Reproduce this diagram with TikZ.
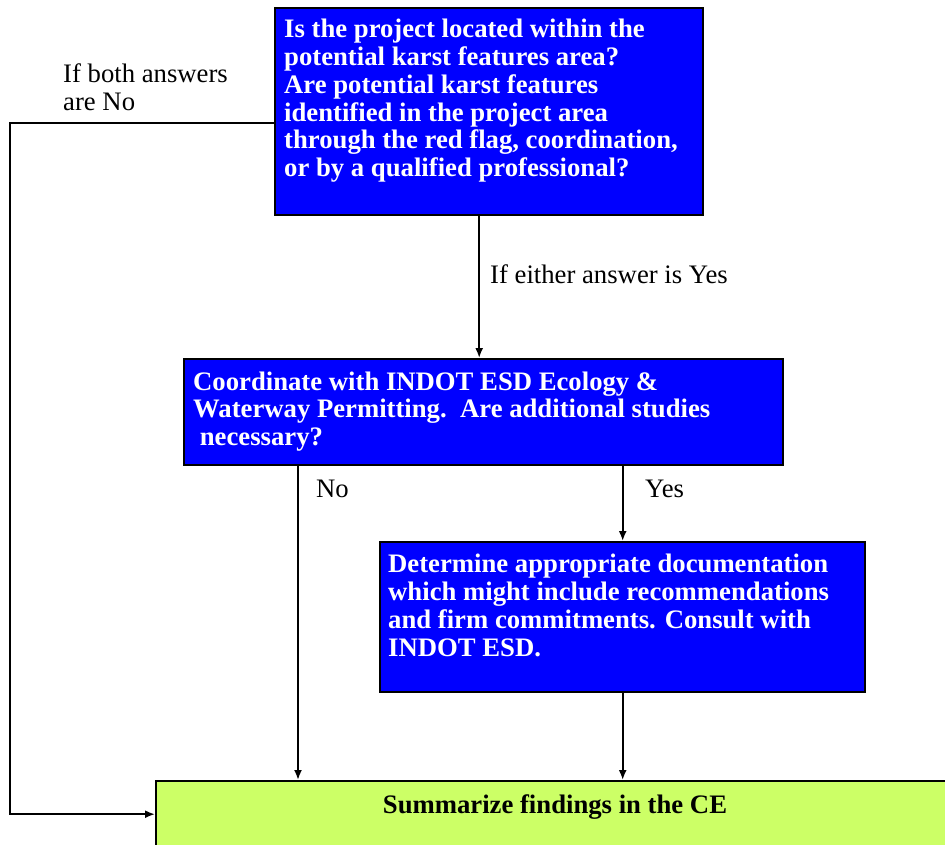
\documentclass[tikz,border=0pt]{standalone}
\usepackage{fontspec}
\setmainfont{Liberation Serif}
\usetikzlibrary{arrows.meta}
\definecolor{boxblue}{RGB}{0,0,255}
\definecolor{boxgreen}{RGB}{204,255,102}
\newcommand\boxfont{\fontsize{26.7pt}{27.8pt}\selectfont\bfseries}
\newcommand\lblfont{\fontsize{26.7pt}{28pt}\selectfont}
\tikzset{
  qbox/.style={draw=black, line width=2.4pt, fill=boxblue, inner sep=0pt, anchor=north west},
  gbox/.style={draw=black, line width=2.4pt, fill=boxgreen, inner sep=0pt, anchor=north west},
  btext/.style={anchor=north west, inner sep=0pt, align=left, text=white, font=\boxfont},
  stext/.style={anchor=base, inner sep=0pt, text=black, font=\boxfont},
  lbl/.style={inner sep=0pt, align=left, text=black, font=\lblfont},
  conn/.style={draw=black, line width=1.9pt, -{Latex[length=10pt,width=8pt]}}
}
\begin{document}
\begin{tikzpicture}[x=1pt,y=-1pt]
\useasboundingbox (0,0) rectangle (945,844);
% boxes
\node[qbox, minimum width=428pt, minimum height=207pt] (q1) at (274,7) {};
\node[qbox, minimum width=599pt, minimum height=106pt] (q2) at (183,358) {};
\node[qbox, minimum width=485pt, minimum height=150pt] (q3) at (379,541) {};
\node[gbox, minimum width=800pt, minimum height=66pt] (s) at (155,780) {};
% box texts
\node[btext] (t1) at (284,18.0) {\strut Is the project located within the\\potential karst features area?\\Are potential karst features\\identified in the project area\\through the red flag, coordination,\\or by a qualified professional?};
\node[btext] (t2) at (193,370.5) {\strut Coordinate with INDOT ESD Ecology \&\\Waterway Permitting.\ \ Are additional studies\\~necessary?};
\node[btext] (t3) at (388,553.3) {\strut Determine appropriate documentation\\which might include recommendations\\and firm commitments. Consult with\\INDOT ESD.};
\node[stext] (ts) at (555,813) {Summarize findings in the CE};
% labels
\node[lbl, anchor=north west] (l1) at (63,62.3) {\strut If both answers\\are No};
\node[lbl, anchor=base west] (l2) at (490,283) {If either answer is Yes};
\node[lbl, anchor=base west] (l3) at (316,497) {No};
\node[lbl, anchor=base west] (l4) at (645,497) {Yes};
% connectors
\draw[conn] ([xshift=-10pt]q1.south) -- ([xshift=-10pt]q1.south |- q2.north);
\draw[conn] ([yshift=-11.5pt]q1.west) -| ([xshift=-145pt]s.west) -- (s.west);
\draw[conn] ([xshift=115pt]q2.south west) -- ([xshift=115pt]q2.south west |- s.north);
\draw[conn] (q2.south -| q3.north) -- (q3.north);
\draw[conn] (q3.south) -- (q3.south |- s.north);
\end{tikzpicture}
\end{document}
